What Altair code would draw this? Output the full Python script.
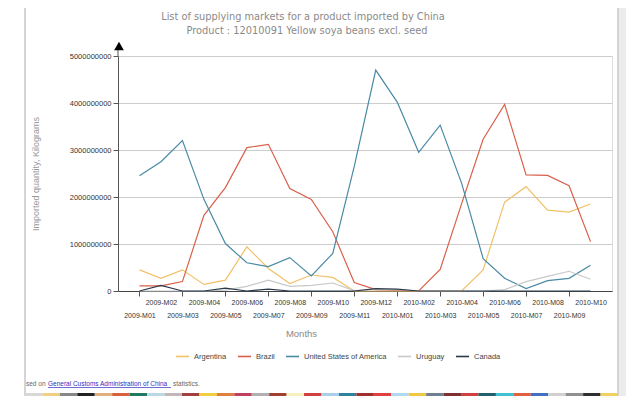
import altair as alt
import pandas as pd

months = ["2009-M01", "2009-M02", "2009-M03", "2009-M04", "2009-M05", "2009-M06",
          "2009-M07", "2009-M08", "2009-M09", "2009-M10", "2009-M11", "2009-M12",
          "2010-M01", "2010-M02", "2010-M03", "2010-M04", "2010-M05", "2010-M06",
          "2010-M07", "2010-M08", "2010-M09", "2010-M10"]

countries = ["Argentina", "Brazil", "United States of America", "Uruguay", "Canada"]
colors = ["#f0c168", "#d9604a", "#4a8aa5", "#c8c8c8", "#2b3a4b"]

# imported quantity, billions of kilograms
argentina = [0.45, 0.27, 0.45, 0.14, 0.23, 0.94, 0.48, 0.16, 0.34, 0.29, 0.0,
             0.0, 0.0, 0.0, 0.0, 0.0, 0.45, 1.89, 2.22, 1.72, 1.68, 1.85]
brazil = [0.11, 0.11, 0.20, 1.61, 2.20, 3.05, 3.12, 2.18, 1.95, 1.26, 0.18,
          0.03, 0.02, 0.0, 0.46, 1.86, 3.23, 3.97, 2.47, 2.46, 2.24, 1.05]
usa = [2.45, 2.75, 3.20, 1.95, 1.01, 0.60, 0.52, 0.71, 0.32, 0.80, 2.65,
       4.70, 4.02, 2.95, 3.53, 2.29, 0.69, 0.27, 0.05, 0.22, 0.27, 0.55]
uruguay = [0.0, 0.0, 0.0, 0.0, 0.02, 0.10, 0.23, 0.10, 0.12, 0.17, 0.01,
           0.03, 0.03, 0.0, 0.0, 0.0, 0.0, 0.03, 0.20, 0.31, 0.42, 0.25]
canada = [0.0, 0.12, 0.0, 0.0, 0.06, 0.0, 0.04, 0.0, 0.0, 0.0, 0.0,
          0.05, 0.04, 0.0, 0.0, 0.0, 0.0, 0.0, 0.0, 0.0, 0.0, 0.0]

y_ticks = [0, 1000000000, 2000000000, 3000000000, 4000000000, 5000000000]

title_lines = ["List of supplying markets for a product imported by China",
               "Product : 12010091 Yellow soya beans excl. seed"]

series = [argentina, brazil, usa, uruguay, canada]
rows = []
for c, vals in zip(countries, series):
    for m, v in zip(months, vals):
        rows.append({"month": m, "country": c, "qty": v * 1e9})
df = pd.DataFrame(rows)

PL, PT = 110, 48          # plot origin inside the view
W, H = 494, 235
OX, OY = 118, 56          # plot origin on the page

odd_test = "toNumber(slice(datum.value, 6)) % 2 == 1"

x_enc = alt.X(
    "month:O", sort=months,
    scale=alt.Scale(type="point", padding=1.08),
    axis=alt.Axis(
        title="Months", labelAngle=0, labelOverlap=False,
        labelExpr=f"{odd_test} ? ['', datum.value] : datum.value",
        labelFontSize=7, labelColor="#333", labelFont="Liberation Sans",
        labelLineHeight=13, labelPadding=2, labelBaseline="top",
        tickSize=5, tickColor="#555",
        tickOpacity={"condition": {"test": odd_test, "value": 1}, "value": 0},
        domainColor="#444", grid=False,
        titleFont="Liberation Sans", titleFontSize=9.5, titleColor="#888",
        titleFontWeight="normal", titleX=183, titleY=42, titleBaseline="middle",
    ),
)

y_enc = alt.Y(
    "qty:Q",
    scale=alt.Scale(domain=[0, 5e9], nice=False),
    axis=alt.Axis(
        title="Imported quantity, Kilograms", values=y_ticks, format="d",
        labelFontSize=7.5, labelColor="#333", labelFont="Liberation Sans",
        tickSize=5, tickColor="#555", domainColor="#555",
        grid=True, gridColor="#cccccc",
        titleFont="Liberation Sans", titleFontSize=9, titleColor="#999",
        titleFontWeight="normal", titleX=-83, titleY=117.5,
        titleAlign="center", titleBaseline="middle",
    ),
)

lines = alt.Chart(df).mark_line(strokeWidth=1.2).encode(
    x=x_enc, y=y_enc,
    color=alt.Color(
        "country:N", sort=countries,
        scale=alt.Scale(domain=countries, range=colors),
        legend=alt.Legend(
            title=None, orient="none", direction="horizontal",
            legendX=57, legendY=293,
            symbolType="stroke", symbolStrokeWidth=1.6, symbolSize=170,
            labelFont="Liberation Sans", labelFontSize=7.5, labelColor="#444",
            columnPadding=7, labelOffset=4,
        ),
    ),
)

one = pd.DataFrame({"k": [0]})

card = alt.Chart(one).mark_rect(fill="white", fillOpacity=0, stroke="#aaaaaa", strokeWidth=1).encode(
    x=alt.value(25 - OX), x2=alt.value(618 - OX),
    y=alt.value(3 - OY), y2=alt.value(420),
)
shadow = alt.Chart(one).mark_rect(fill="#ececec").encode(
    x=alt.value(619 - OX), x2=alt.value(640 - OX),
    y=alt.value(3 - OY), y2=alt.value(420),
)

title_style = dict(font="DejaVu Sans", fontSize=9.8, color="#8a8a8a", align="center",
                   baseline="middle")
t1 = alt.Chart(pd.DataFrame({"t": [title_lines[0]]})).mark_text(**title_style).encode(
    text="t:N", x=alt.value(303 - OX), y=alt.value(17 - OY))
t2 = alt.Chart(pd.DataFrame({"t": [title_lines[1]]})).mark_text(**title_style).encode(
    text="t:N", x=alt.value(307 - OX), y=alt.value(31 - OY))

axis_ext = alt.Chart(one).mark_rule(color="#555", strokeWidth=1).encode(
    x=alt.value(0), y=alt.value(-10), y2=alt.value(0),
)
arrow = alt.Chart(one).mark_point(shape="triangle-up", filled=True, color="black",
                                  size=95, opacity=1).encode(
    x=alt.value(1), y=alt.value(-10),
)

footer_style = dict(font="Liberation Sans", fontSize=6.5, align="left", baseline="middle")
f1 = alt.Chart(pd.DataFrame({"t": ["sed on"]})).mark_text(color="#666", **footer_style).encode(
    text="t:N", x=alt.value(26 - OX), y=alt.value(384 - OY))
f2 = alt.Chart(pd.DataFrame({"t": ["General Customs Administration of China"]})).mark_text(
    color="#3030c0", **footer_style).encode(
    text="t:N", x=alt.value(48 - OX), y=alt.value(384 - OY))
f2u = alt.Chart(one).mark_rule(color="#3030c0", strokeWidth=0.7).encode(
    x=alt.value(48 - OX), x2=alt.value(171 - OX), y=alt.value(387.5 - OY))
f3 = alt.Chart(pd.DataFrame({"t": ["statistics."]})).mark_text(color="#666", **footer_style).encode(
    text="t:N", x=alt.value(173 - OX), y=alt.value(384 - OY))

strip_colors = ["#d8d8d8", "#f0d080", "#888888", "#222222", "#e0b080", "#d9603a",
                "#1f7a60", "#bcd8e8", "#c0b8b8", "#a04040", "#f0d040", "#e08040",
                "#c04060", "#b0b0b0", "#a04030", "#f8f0c0", "#d04040", "#a8d0e8",
                "#3080a0", "#a03030", "#e04040", "#b0d8f0", "#f0c840", "#708090",
                "#803030", "#d04040", "#206070", "#40c0d0", "#e06040", "#4070c0",
                "#d0d0d0", "#909090", "#303030", "#f0d060"]
strip_layers = []
n = len(strip_colors)
for i, col in enumerate(strip_colors):
    x0 = 25 + (618 - 25) * i / n
    x1 = 25 + (618 - 25) * (i + 1) / n
    strip_layers.append(
        alt.Chart(one).mark_rect(color=col).encode(
            x=alt.value(x0 - OX), x2=alt.value(x1 - OX),
            y=alt.value(393 - OY), y2=alt.value(396 - OY))
    )

chart = alt.layer(
    shadow, card, lines, axis_ext, arrow, t1, t2, f1, f2, f2u, f3, *strip_layers
).properties(
    width=W, height=H,
    padding={"left": PL, "top": PT, "right": 618 - PL - W, "bottom": 388 - PT - H},
    autosize=alt.AutoSizeParams(type="none"),
).configure_view(stroke="#888888", strokeWidth=1).configure(background="white")

chart.save("out.html", embed_options={"renderer": "svg", "actions": False})
